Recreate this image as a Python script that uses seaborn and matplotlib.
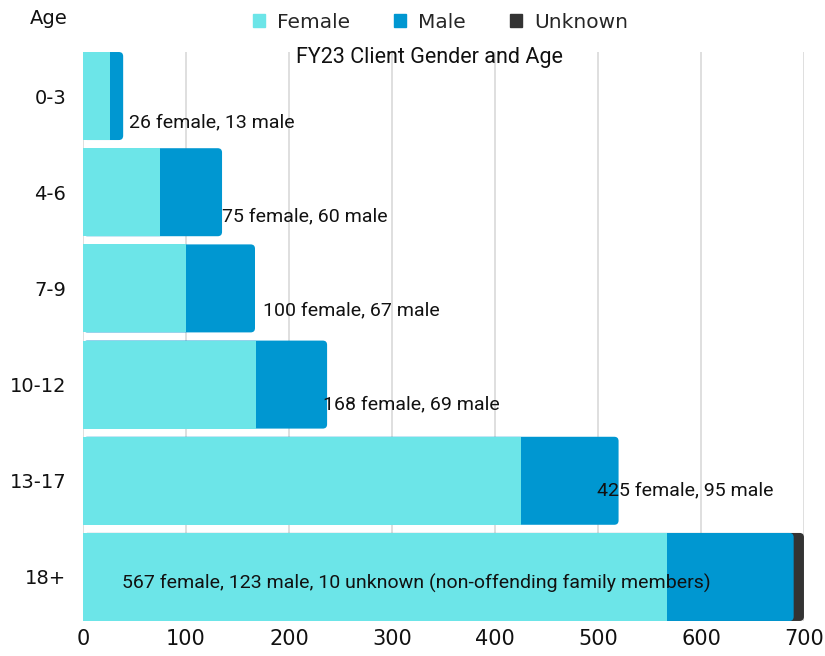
import numpy as np
import pandas as pd
import matplotlib
matplotlib.use('Agg')
import matplotlib.pyplot as plt
import seaborn as sns
from matplotlib.patches import FancyBboxPatch, Patch

# Данные
ages = ['0-3', '4-6', '7-9', '10-12', '13-17', '18+']
female = [26, 75, 100, 168, 425, 567]
male = [13, 60, 67, 69, 95, 123]
unknown = [0, 0, 0, 0, 0, 10]
labels = ['26 female, 13 male', '75 female, 60 male', '100 female, 67 male',
          '168 female, 69 male', '425 female, 95 male',
          '567 female, 123 male, 10 unknown (non-offending family members)']
# положение подписей (x в единицах данных, сдвиг по y в долях категории)
label_x = [45, 135, 175, 233, 499, 38]
label_dy = [0.27, 0.25, 0.23, 0.21, 0.10, 0.07]

C_FEMALE = '#6ce5e8'
C_MALE = '#0097d1'
C_UNKNOWN = '#333333'

sns.set_theme(style='white')
plt.rcParams['font.family'] = ['DejaVu Sans']

df = pd.DataFrame({'age': ages, 'female': female, 'male': male, 'unknown': unknown})
df['fm'] = df['female'] + df['male']
df['total'] = df['fm'] + df['unknown']

fig = plt.figure(figsize=(8.25, 6.56), dpi=100)
ax = fig.add_axes([0.1006, 0.0534, 0.8739, 0.8673])

W = 0.915
# накопительные слои: сначала сумма, затем female+male, затем female
sns.barplot(data=df, y='age', x='total', color=C_UNKNOWN, width=W, linewidth=0,
            saturation=1, orient='h', ax=ax, zorder=2)
n_unk = len(ax.patches)
sns.barplot(data=df, y='age', x='fm', color=C_MALE, width=W, linewidth=0,
            saturation=1, orient='h', ax=ax, zorder=3)
n_male = len(ax.patches)
sns.barplot(data=df, y='age', x='female', color=C_FEMALE, width=W, linewidth=0,
            saturation=1, orient='h', ax=ax, zorder=4)

ax.set_xlim(0, 700)
ax.set_ylim(len(ages) - 1 + W / 2, -W / 2)

# скругление правого края
aspect = (W / 88.0) / (700 / 721.0)
patches = list(ax.patches)
for i, p in enumerate(patches[:n_male]):
    if i < n_unk and unknown[i] == 0:
        p.set_visible(False)
        continue
    fb = FancyBboxPatch((p.get_x(), p.get_y()), p.get_width(), p.get_height(),
                        boxstyle='round,pad=0,rounding_size=4.2',
                        mutation_aspect=aspect, facecolor=p.get_facecolor(),
                        edgecolor='none', linewidth=0, zorder=p.get_zorder())
    p.set_visible(False)
    ax.add_patch(fb)

for i, txt in enumerate(labels):
    ax.text(label_x[i], i + label_dy[i], txt, ha='left', va='center',
            fontsize=14, family='Roboto', color='#111111', zorder=6)

ax.set_xticks(np.arange(0, 701, 100))
ax.grid(axis='x', color='#d9d9d9', linewidth=1.2, zorder=0)
ax.grid(axis='y', visible=False)
for s in ax.spines.values():
    s.set_visible(False)
ax.tick_params(axis='x', length=0, pad=6, labelsize=15, colors='#111111')
ax.tick_params(axis='y', length=0, pad=12, labelsize=14, colors='#111111')
ax.set_xlabel('')
ax.set_ylabel('')

fig.text(0.036, 0.972, 'Age', ha='left', va='center', fontsize=14, color='#111111')
fig.text(0.521, 0.913, 'FY23 Client Gender and Age', ha='center', va='center',
         fontsize=15.5, family='Roboto', color='#111111')

handles = [Patch(color=C_FEMALE, label='Female'), Patch(color=C_MALE, label='Male'),
           Patch(color=C_UNKNOWN, label='Unknown')]
fig.legend(handles=handles, loc='center', bbox_to_anchor=(0.534, 0.966), ncol=3,
           frameon=False, fontsize=14.5, handlelength=0.6, handleheight=0.6,
           handletextpad=0.6, columnspacing=2.2)

fig.savefig('out.png', dpi=100)
